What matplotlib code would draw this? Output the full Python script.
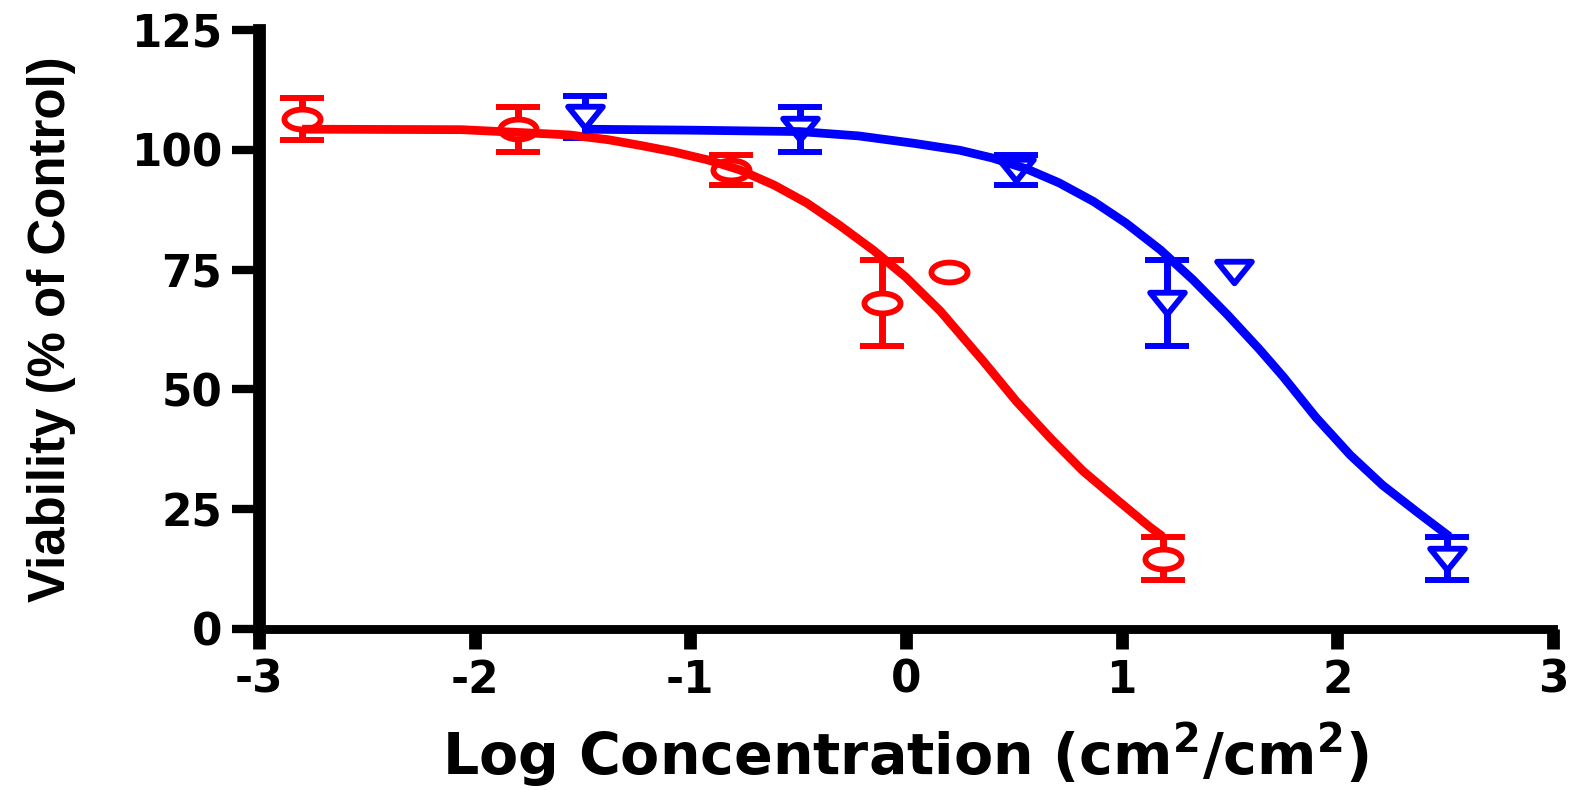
import numpy as np
import matplotlib
matplotlib.use("Agg")
import matplotlib.pyplot as plt
from matplotlib.path import Path
from matplotlib import font_manager

# ---------------- data ----------------
red_x = [-2.80, -1.80, -0.81, -0.11, 0.20, 1.19]
red_y = [106.4, 104.3, 95.8, 68.1, 74.4, 14.7]
red_err = [4.4, 4.7, 3.1, 9.0, np.nan, 4.4]

blue_x = [-1.49, -0.49, 0.51, 1.21, 1.52, 2.51]
blue_y = [106.8, 104.3, 95.8, 68.1, 74.5, 14.7]
blue_err = [4.4, 4.7, 3.1, 9.0, np.nan, 4.4]

red_fit_x = [-2.80, -2.06, -1.56, -1.38, -1.23, -1.08, -0.92, -0.77, -0.61,
             -0.46, -0.31, -0.15, 0.00, 0.16, 0.36, 0.51, 0.67, 0.82, 0.98,
             1.13, 1.19]
red_fit_y = [104.3, 104.2, 103.1, 102.1, 100.9, 99.6, 97.9, 95.8, 92.6,
             88.9, 84.3, 79.0, 73.4, 66.3, 55.8, 47.6, 39.8, 33.0, 26.9,
             21.3, 19.3]

blue_fit_x = [-1.50, -1.00, -0.49, -0.22, 0.03, 0.25, 0.40, 0.56, 0.71, 0.87,
              1.02, 1.18, 1.33, 1.49, 1.64, 1.75, 1.90, 2.06, 2.21, 2.37,
              2.49, 2.52]
blue_fit_y = [104.3, 104.1, 103.8, 102.9, 101.4, 99.9, 98.3, 96.0, 93.1, 89.2,
              84.7, 79.1, 72.9, 65.6, 58.3, 52.6, 44.2, 36.3, 30.0, 24.4,
              20.3, 19.3]

x_ticks = [-3, -2, -1, 0, 1, 2, 3]
y_ticks = [0, 25, 50, 75, 100, 125]
x_label = "Log Concentration (cm$^{2}$/cm$^{2}$)"
y_label = "Viability (% of Control)"

# ---------------- style ----------------
plt.rcParams["font.family"] = ["DejaVu Sans"]
plt.rcParams["font.weight"] = "bold"
plt.rcParams["axes.unicode_minus"] = False
plt.rcParams["mathtext.fontset"] = "dejavusans"
plt.rcParams["mathtext.default"] = "bf"

W, H = 1571, 790
fig = plt.figure(figsize=(W / 100, H / 100), dpi=100)
x0, x1, ytop, ybot = 259, 1553, 30, 629
ax = fig.add_axes([x0 / W, (H - ybot) / H, (x1 - x0) / W, (ybot - ytop) / H])

ax.set_xlim(-3, 3)
ax.set_ylim(0, 125)

# custom markers (wide ellipse, flattened down-triangle)
t = np.linspace(0, 2 * np.pi, 73)
ellipse = Path(np.column_stack([np.cos(t), 0.55 * np.sin(t)]), closed=True)
tri_down = Path([(-1, 0.62), (1, 0.62), (0, -0.62), (-1, 0.62)], closed=True)

for xs, ys, es, fx, fy, col, mk, ms in [
    (red_x, red_y, red_err, red_fit_x, red_fit_y, "#ff0000", ellipse, 26),
    (blue_x, blue_y, blue_err, blue_fit_x, blue_fit_y, "#0000ff", tri_down, 25),
]:
    ax.errorbar(xs, ys, yerr=es, fmt="none", ecolor=col, elinewidth=5.0,
                capsize=15.5, capthick=4.3, zorder=2, clip_on=False)
    ax.plot(xs, ys, ls="none", marker=mk, ms=ms, mfc="white", mec=col,
            mew=4.2, zorder=3, clip_on=False)
    ax.plot(fx, fy, color=col, lw=6.3, solid_capstyle="butt",
            solid_joinstyle="round", zorder=4, clip_on=False)

# spines / ticks
ax.spines["top"].set_visible(False)
ax.spines["right"].set_visible(False)
ax.spines["left"].set_linewidth(9.2)
ax.spines["bottom"].set_linewidth(6.4)
ax.set_xticks(x_ticks)
ax.set_yticks(y_ticks)
ax.set_xticklabels([str(v) for v in x_ticks])
ax.set_yticklabels([str(v) for v in y_ticks])
ax.tick_params(axis="y", direction="out", length=19.5, width=6.0, pad=7,
               labelsize=31.5, colors="black")
ax.tick_params(axis="x", direction="out", length=14.5, width=9.2, pad=7,
               labelsize=31.5, colors="black")
for lab in ax.get_xticklabels() + ax.get_yticklabels():
    lab.set_fontweight("bold")

# x label
xl = ax.set_xlabel(x_label, fontsize=41, fontweight="bold", va="baseline")
ax.xaxis.set_label_coords(0.5, (ybot - 775) / (ybot - ytop))

# y label: a narrow face, sized to span the reference length
avail = {f.name for f in font_manager.fontManager.ttflist}
yfam = "Liberation Sans Narrow" if "Liberation Sans Narrow" in avail else "Liberation Sans"
yl = ax.set_ylabel(y_label, fontsize=40, fontweight="bold", family=[yfam, "DejaVu Sans"],
                   va="center", ha="center")
r = fig.canvas.get_renderer()
ext = yl.get_window_extent(r)
target_len = 545.0
yl.set_fontsize(40 * target_len / ext.height)
ax.yaxis.set_label_coords((52 - x0) / (x1 - x0), 0.5)

fig.savefig("out.png", dpi=100, facecolor="white")
